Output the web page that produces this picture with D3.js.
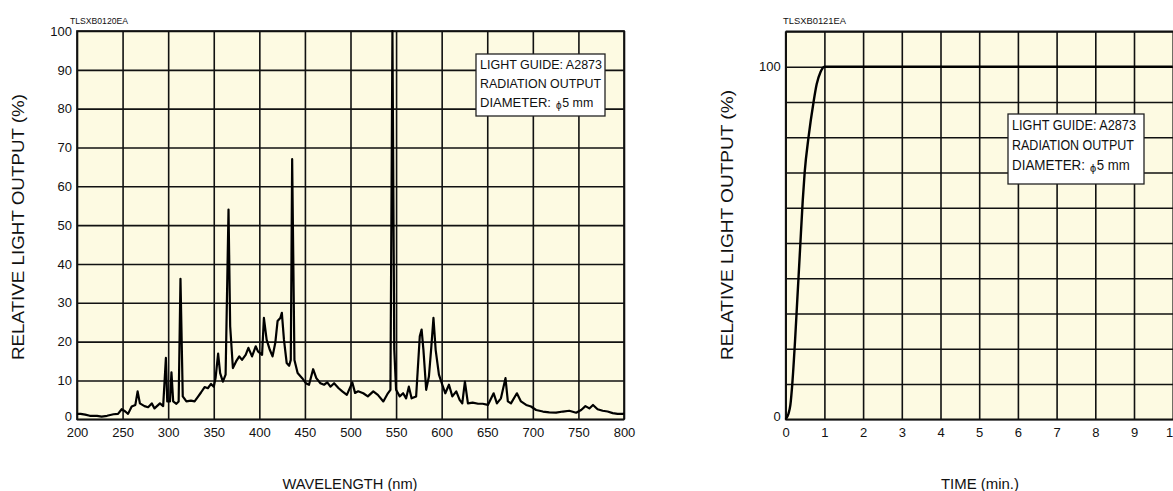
<!DOCTYPE html>
<html>
<head>
<meta charset="utf-8">
<script src="https://cdn.jsdelivr.net/npm/d3@7"></script>
<style>
  body { margin: 0; background: #fff; }
  svg text { font-family: "Liberation Sans", Arial, sans-serif; fill: #111; }
  .grid line { stroke: #111; stroke-width: 1.6; }
  .grid .domain { display: none; }
</style>
</head>
<body>
<svg id="chart" width="1173" height="491"></svg>
<script>
// spectrum: wavelength (nm) and relative output (%)
var wavelength = [200, 204, 209, 214, 222, 227, 233, 240, 245, 249, 253, 256, 260, 264, 266.5, 269, 274, 278, 282, 285, 291, 294.5, 297.5, 299, 302, 303.6, 305.5, 309, 311.5, 313.5, 316, 320, 325, 329, 333, 336, 340, 343.5, 347, 350, 352, 354.8, 357, 360, 363, 366.2, 368, 371, 374.5, 378, 381, 385, 388, 392, 396, 398.5, 403, 405, 408, 411.5, 414.5, 417.5, 420, 423, 424.7, 427, 430, 432.7, 434.5, 436, 438.5, 442, 447, 451, 454.5, 459, 462.5, 467, 471, 474.5, 478, 482, 487, 491, 496, 502, 505, 508.4, 514, 519, 525, 530, 536, 541, 543.8, 546, 548, 550, 554, 557.7, 561, 564, 567, 572, 576, 578, 580, 583, 586, 588.7, 591, 593.4, 597, 600.7, 604, 608, 611.7, 616, 619.7, 622.6, 625.5, 628.8, 634, 640, 645, 650.7, 657, 660.6, 665, 670, 672.6, 676, 682.5, 687, 692.7, 698, 703.6, 711, 718, 725.5, 733, 740, 747.5, 753, 757.7, 762, 766, 771, 776.6, 782, 787.6, 793, 798.5, 800];
var spectrum = [1.4, 1.4, 1.2, 0.9, 0.9, 0.7, 0.9, 1.3, 1.4, 2.6, 2.0, 1.4, 3.3, 3.7, 7.2, 4.1, 3.4, 3.1, 4.1, 2.8, 4.1, 3.4, 15.8, 4.6, 4.6, 12.1, 4.6, 4.0, 4.6, 36.2, 5.9, 4.6, 4.8, 4.6, 5.9, 6.9, 8.3, 8.0, 9.1, 8.4, 10.6, 16.9, 11.9, 9.7, 11.5, 54, 24, 13.2, 14.9, 16.2, 15.3, 16.6, 18.4, 16.2, 18.8, 17.5, 16.6, 26.1, 20.5, 17.9, 16.2, 19.7, 25.3, 26.1, 27.4, 20.5, 14.5, 13.8, 15.3, 67, 15.3, 11.9, 10.6, 9.3, 8.9, 12.9, 10.6, 9.3, 8.9, 9.5, 8.4, 9.3, 8.0, 7.2, 6.3, 9.5, 6.8, 7.2, 6.7, 5.9, 7.2, 6.3, 4.6, 6.7, 7.6, 100, 18, 7.6, 5.9, 6.7, 5.4, 8.4, 5.4, 5.9, 21.4, 23.1, 17.9, 7.6, 11, 18.8, 26.1, 17.9, 11.5, 8.9, 6.7, 8.9, 5.9, 7.2, 5.0, 4.1, 9.7, 4.1, 4.3, 4.0, 4.0, 3.7, 6.7, 4.1, 5.4, 10.6, 4.6, 4.1, 6.7, 4.6, 3.7, 3.3, 2.4, 2.0, 1.8, 1.7, 2.0, 2.2, 1.7, 2.4, 3.4, 2.8, 3.7, 2.6, 2.2, 2.0, 1.6, 1.4, 1.4, 1.5];

// rise time: minutes and relative output (%)
var minutes = [0, 0.07, 0.12, 0.17, 0.24, 0.30, 0.37, 0.44, 0.49, 0.59, 0.72, 0.80, 0.90, 1.0, 10];
var riseOutput = [0, 1.5, 4, 10, 22, 34, 48, 62, 70, 80, 90, 95, 98.5, 100, 100];

var wlTicks = [200, 250, 300, 350, 400, 450, 500, 550, 600, 650, 700, 750, 800];
var pctTicks = [0, 10, 20, 30, 40, 50, 60, 70, 80, 90, 100];
var timeTicks = [0, 1, 2, 3, 4, 5, 6, 7, 8, 9, 10];
var riseGrid = [0, 10, 20, 30, 40, 50, 60, 70, 80, 90, 100, 110];
var legendLines = ["LIGHT GUIDE: A2873", "RADIATION OUTPUT", "DIAMETER:"];

var cream = "#fdfae2";
var svg = d3.select("#chart");

// ---------- left: spectral distribution ----------
var left = { x0: 77, x1: 624, y0: 31, y1: 419.3 };

var x = d3.scaleLinear().domain([200, 800]).range([left.x0, left.x1]);
var y = d3.scaleLinear().domain([0, 100]).range([left.y1, left.y0]);

svg.append("rect")
  .attr("x", left.x0).attr("y", left.y0)
  .attr("width", left.x1 - left.x0).attr("height", left.y1 - left.y0)
  .attr("fill", cream);

svg.append("g")
  .attr("class", "grid")
  .attr("transform", "translate(0," + left.y1 + ")")
  .call(d3.axisBottom(x).tickValues(wlTicks).tickSize(-(left.y1 - left.y0)).tickPadding(8))
  .call(function(g) { g.selectAll("text").style("font-size", "13px"); });

svg.append("g")
  .attr("class", "grid")
  .attr("transform", "translate(" + left.x0 + ",0)")
  .call(d3.axisLeft(y).tickValues(pctTicks).tickSize(-(left.x1 - left.x0)).tickPadding(5))
  .call(function(g) {
    g.selectAll("text").style("font-size", "13px");
    g.selectAll(".tick").filter(function(d) { return d === 0; }).select("text").attr("dy", "0.1em");
  });

svg.append("rect")
  .attr("x", left.x0).attr("y", left.y0)
  .attr("width", left.x1 - left.x0).attr("height", left.y1 - left.y0)
  .attr("fill", "none").attr("stroke", "#111").attr("stroke-width", 1.7);

var specLine = d3.line()
  .x(function(d, i) { return x(wavelength[i]); })
  .y(function(d) { return y(d); });

svg.append("path")
  .datum(spectrum)
  .attr("d", specLine)
  .attr("fill", "none")
  .attr("stroke", "#000")
  .attr("stroke-width", 2.2)
  .attr("stroke-linejoin", "round");

svg.append("text")
  .attr("x", 70).attr("y", 24)
  .style("font-size", "9px")
  .attr("textLength", 58).attr("lengthAdjust", "spacingAndGlyphs")
  .text("TLSXB0120EA");

function legendBox(bx, by, bw, bh, fs, lineGap, widths) {
  svg.append("rect")
    .attr("x", bx).attr("y", by).attr("width", bw).attr("height", bh)
    .attr("fill", "#fff").attr("stroke", "#222").attr("stroke-width", 1.3);
  legendLines.forEach(function(s, i) {
    var ly = by + fs + 2 + i * lineGap;
    svg.append("text")
      .attr("x", bx + 4)
      .attr("y", ly)
      .style("font-size", fs + "px")
      .attr("textLength", widths[i]).attr("lengthAdjust", "spacingAndGlyphs")
      .text(s);
    if (i === 2) {
      var px = bx + 4 + widths[2] + 5;
      svg.append("text")
        .attr("x", px).attr("y", ly + 2)
        .style("font-size", (fs - 3) + "px")
        .text("ϕ");
      svg.append("text")
        .attr("x", px + fs * 0.48).attr("y", ly)
        .style("font-size", fs + "px")
        .attr("textLength", widths[3]).attr("lengthAdjust", "spacingAndGlyphs")
        .text("5 mm");
    }
  });
}

legendBox(476, 54, 129, 62, 13, 19, [122, 121, 71, 31]);

svg.append("text")
  .attr("transform", "translate(24,227) rotate(-90)")
  .attr("text-anchor", "middle")
  .style("font-size", "16px")
  .attr("textLength", 266).attr("lengthAdjust", "spacingAndGlyphs")
  .text("RELATIVE LIGHT OUTPUT (%)");

svg.append("text")
  .attr("x", 350).attr("y", 489)
  .attr("text-anchor", "middle")
  .style("font-size", "14.5px")
  .attr("textLength", 135).attr("lengthAdjust", "spacingAndGlyphs")
  .text("WAVELENGTH (nm)");

// ---------- right: rise characteristic ----------
var right = { x0: 785.7, x1: 1172.7, y1: 419.3 };

var tx = d3.scaleLinear().domain([0, 10]).range([right.x0, right.x1]);
var ty = d3.scaleLinear().domain([0, 100]).range([right.y1, 66.7]);
var rTop = ty(110);

svg.append("rect")
  .attr("x", right.x0).attr("y", rTop)
  .attr("width", 400).attr("height", right.y1 - rTop)
  .attr("fill", cream);

svg.append("g")
  .attr("class", "grid")
  .attr("transform", "translate(0," + right.y1 + ")")
  .call(d3.axisBottom(tx).tickValues(timeTicks).tickSize(-(right.y1 - rTop)).tickPadding(8))
  .call(function(g) { g.selectAll("text").style("font-size", "13px"); });

svg.append("g")
  .attr("class", "grid")
  .attr("transform", "translate(" + right.x0 + ",0)")
  .call(d3.axisLeft(ty).tickValues(riseGrid).tickSize(-400).tickPadding(5)
    .tickFormat(function(d) { return (d === 0 || d === 100) ? d : ""; }))
  .call(function(g) {
    g.selectAll("text").style("font-size", "13px");
    g.selectAll(".tick").filter(function(d) { return d === 0; }).select("text").attr("dy", "0.1em");
  });

svg.append("path")
  .attr("d", "M" + right.x0 + "," + rTop + "H1180M" + right.x0 + "," + rTop + "V" + right.y1 + "H1180")
  .attr("fill", "none").attr("stroke", "#111").attr("stroke-width", 1.7);

var riseLine = d3.line()
  .x(function(d, i) { return tx(minutes[i]); })
  .y(function(d) { return ty(d); })
  .curve(d3.curveMonotoneX);

svg.append("path")
  .datum(riseOutput)
  .attr("d", riseLine)
  .attr("fill", "none")
  .attr("stroke", "#000")
  .attr("stroke-width", 2.4);

svg.append("text")
  .attr("x", 783).attr("y", 24)
  .style("font-size", "9px")
  .attr("textLength", 63).attr("lengthAdjust", "spacingAndGlyphs")
  .text("TLSXB0121EA");

legendBox(1008, 114, 136, 70, 14, 20, [124, 122, 73, 33]);

svg.append("text")
  .attr("transform", "translate(733,225) rotate(-90)")
  .attr("text-anchor", "middle")
  .style("font-size", "16px")
  .attr("textLength", 270).attr("lengthAdjust", "spacingAndGlyphs")
  .text("RELATIVE LIGHT OUTPUT (%)");

svg.append("text")
  .attr("x", 980).attr("y", 489)
  .attr("text-anchor", "middle")
  .style("font-size", "14.5px")
  .attr("textLength", 78).attr("lengthAdjust", "spacingAndGlyphs")
  .text("TIME (min.)");
</script>
</body>
</html>
